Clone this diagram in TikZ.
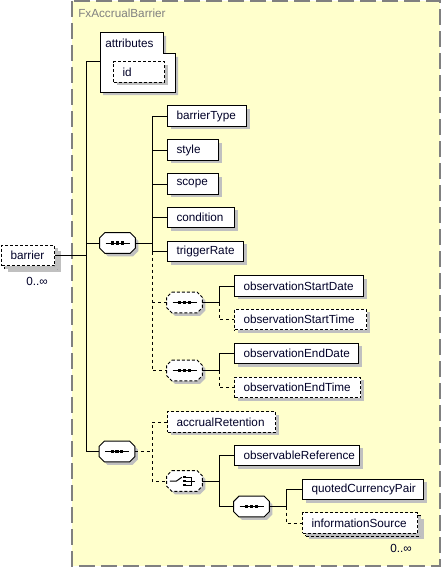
\documentclass[tikz,border=0pt]{standalone}
\usepackage{fontspec}
\setmainfont{Liberation Sans}
\usetikzlibrary{shadows}
\definecolor{bgY}{RGB}{255,255,204}
\definecolor{bdG}{RGB}{128,128,128}
\definecolor{shG}{RGB}{192,192,192}
\definecolor{txt}{RGB}{0,0,40}
\tikzset{
  shd/.style={drop shadow={shadow xshift=2.25pt,shadow yshift=-2.25pt,opacity=1,fill=shG}},
  elem/.style={draw, fill=white, line width=0.75pt, rectangle, anchor=west, align=left,
    minimum height=15.4pt, inner xsep=6.75pt, inner ysep=0pt, text=txt, shd},
  optelem/.style={elem, dash pattern=on 2.25pt off 1.5pt},
  conn/.style={line width=0.75pt},
  dconn/.style={line width=0.75pt, dash pattern=on 2.25pt off 2.25pt},
  octbox/.style={rectangle, draw=none, fill=none, minimum width=26.25pt, minimum height=15pt, inner sep=0pt},
  octline/.style={fill=white, line width=0.75pt, shd},
  icon/.style={line width=0.75pt, solid},
  mult/.style={text=txt, inner sep=0pt}
}
% octagon outline around an (invisible) node
\newcommand\octoutline[2][]{%
  \draw[octline,#1] ([xshift=3.8pt]#2.north west) -- ([xshift=-3.8pt]#2.north east)
    -- ([yshift=-3.8pt]#2.north east) -- ([yshift=3.8pt]#2.south east)
    -- ([xshift=-3.8pt]#2.south east) -- ([xshift=3.8pt]#2.south west)
    -- ([yshift=3.8pt]#2.south west) -- ([yshift=-3.8pt]#2.north west) -- cycle;}
\newcommand\seqmark[1]{%
  \draw[icon] ([xshift=-9pt]#1.center) -- ([xshift=9pt]#1.center);
  \foreach \d in {-3.6pt,0pt,3.6pt}
    \fill ([xshift=\d]#1.center) +(-1.2pt,-1.2pt) rectangle +(1.2pt,1.2pt);}
\newcommand\choicemark[1]{%
  \draw[icon] ([xshift=-11pt]#1.center) -- ([xshift=-6pt]#1.center) -- ([xshift=-2pt,yshift=2.8pt]#1.center);
  \foreach \d in {-3pt,0pt,3pt}
    \fill ([yshift=\d]#1.center) +(-1.1pt,-1.1pt) rectangle +(1.1pt,1.1pt);
  \draw[icon] ([xshift=1pt,yshift=3pt]#1.center) -- ([xshift=5pt,yshift=3pt]#1.center)
    -- ([xshift=5pt,yshift=-3pt]#1.center) -- ([xshift=1pt,yshift=-3pt]#1.center);
  \draw[icon] ([xshift=1pt]#1.center) -- ([xshift=8pt]#1.center);}
\begin{document}
\begin{tikzpicture}[x=0.75pt,y=-0.75pt, font=\fontsize{8.8pt}{10pt}\selectfont]
\useasboundingbox (0,0) rectangle (441,567);
% background group
\draw[fill=bgY, draw=bdG, line width=1.3pt, dash pattern=on 12pt off 4.5pt] (72,1) rectangle (440,566);
\node[anchor=west, text=bdG, inner sep=0pt] (title) at (78,13) {FxAccrualBarrier};

% attributes
\draw[fill=white, line width=0.75pt, shd] (100,33) -- (163,33) -- (163,54) -- (175,54) -- (175,92) -- (100,92) -- cycle;
\node[anchor=west, text=txt, inner sep=0pt] (attrtxt) at (105,43.5) {attributes};
\node[optelem, text width=24.75pt] (id) at (113,72) {id};
\coordinate (attrL) at (100,62);

% barrier (multiple)
\node[optelem, minimum width=39.75pt] (barrierback) at (4,258.5) {};
\node[optelem, text width=26.25pt, drop shadow={opacity=0}] (barrier) at (1,255.5) {barrier};
\node[mult] (m1) at (37,281) {0..∞};

% top-level junction
\coordinate (j0) at (86,255.5);

% sequences
\node[octbox] (s1) at (117.5,243) {};
\node[octbox] (s2) at (117,451.5) {};
\octoutline{s1}\seqmark{s1}
\octoutline{s2}\seqmark{s2}

\draw[conn] (barrier.east) -- (j0);
\draw[conn] (attrL) -- (attrL -| j0) |- (s2.west);
\draw[conn] (s1.west) -- (s1.west -| j0);

% children of s1
\node[elem, text width=45.75pt] (bt) at (167,116) {barrierType};
\node[elem, text width=24.75pt] (st) at (167,150) {style};
\node[elem, text width=24.75pt] (sc) at (167,184) {scope};
\node[elem, text width=36.75pt] (cd) at (167,217.5) {condition};
\node[elem, text width=43.5pt] (tr) at (167,251.5) {triggerRate};
\node[octbox] (sa) at (184.5,302.5) {};
\node[octbox] (sb) at (184.5,370.5) {};
\octoutline[dash pattern=on 2.25pt off 1.5pt]{sa}\seqmark{sa}
\octoutline[dash pattern=on 2.25pt off 1.5pt]{sb}\seqmark{sb}

\coordinate (j1) at (152,243);
\draw[conn] (s1.east) -- (j1);
\draw[conn] (bt.west) -- (bt.west -| j1) -- (tr.west -| j1) -- (tr.west);
\draw[conn] (st.west) -- (st.west -| j1);
\draw[conn] (sc.west) -- (sc.west -| j1);
\draw[conn] (cd.west) -- (cd.west -| j1);
\draw[dconn] (tr.west -| j1) |- (sb.west);
\draw[dconn] (sa.west) -- (sa.west -| j1);

% observation start
\node[elem, text width=83.25pt] (osd) at (234,286) {observationStartDate};
\node[optelem, text width=85.5pt] (ost) at (234,319.5) {observationStartTime};
\coordinate (ja) at (219,302.5);
\draw[conn] (sa.east) -- (ja);
\draw[conn] (osd.west) -- (osd.west -| ja) -- (ja);
\draw[dconn] (ja) |- (ost.west);

% observation end
\node[elem, text width=79.5pt] (oed) at (234,353.5) {observationEndDate};
\node[optelem, text width=81pt] (oet) at (234,387.5) {observationEndTime};
\coordinate (jb) at (219,370.5);
\draw[conn] (sb.east) -- (jb);
\draw[conn] (oed.west) -- (oed.west -| jb) -- (jb);
\draw[dconn] (jb) |- (oet.west);

% sequence 2
\node[optelem, text width=67.5pt] (ar) at (167,422) {accrualRetention};
\node[octbox] (ch) at (184.5,481) {};
\octoutline[dash pattern=on 2.25pt off 1.5pt]{ch}\choicemark{ch}
\coordinate (j2) at (152,451.5);
\draw[dconn] (s2.east) -- (j2);
\draw[dconn] (ar.west) -- (ar.west -| j2) -- (ch.west -| j2) -- (ch.west);

% choice
\node[elem, text width=80.25pt] (orf) at (234,455.5) {observableReference};
\node[octbox] (s3) at (251.5,506.5) {};
\octoutline{s3}\seqmark{s3}
\coordinate (jc) at (219,481);
\draw[conn] (ch.east) -- (jc);
\draw[conn] (orf.west) -- (orf.west -| jc) |- (s3.west);

% sequence 3
\node[elem, text width=77.25pt] (qcp) at (302,489.5) {quotedCurrencyPair};
\node[optelem, minimum width=86.25pt] (isback) at (305,526) {};
\node[optelem, text width=72.75pt, drop shadow={opacity=0}] (is) at (302,523) {informationSource};
\node[mult] (m2) at (401,548) {0..∞};
\coordinate (j3) at (286,506.5);
\draw[conn] (s3.east) -- (j3);
\draw[conn] (qcp.west) -- (qcp.west -| j3) -- (j3);
\draw[dconn] (j3) |- (is.west);
\end{tikzpicture}
\end{document}
